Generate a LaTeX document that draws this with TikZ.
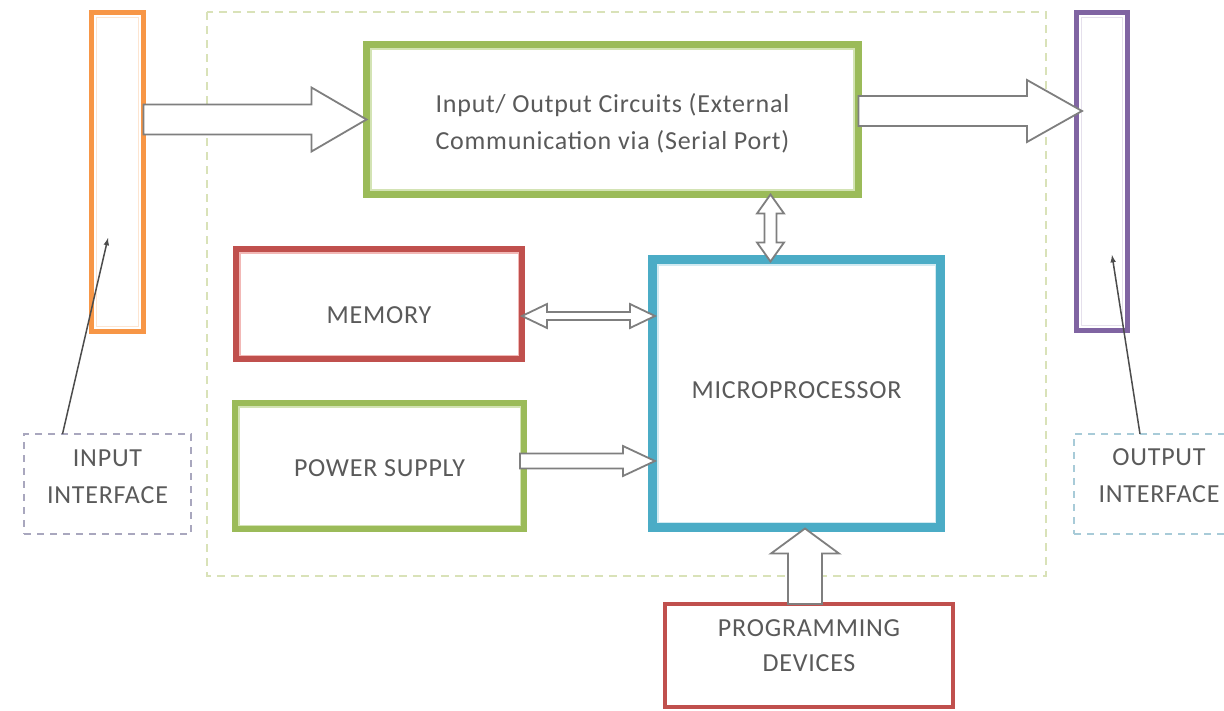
\documentclass[tikz,border=0pt]{standalone}
\usepackage{fontspec}
\setmainfont{Carlito}[LetterSpace=3]
\usetikzlibrary{calc}

% Office-style theme colours
\definecolor{cOrange}{HTML}{F79646}
\definecolor{cPurple}{HTML}{8064A2}
\definecolor{cGreen}{HTML}{9BBB59}
\definecolor{cGreenLt}{HTML}{D3E3B4}
\definecolor{cRed}{HTML}{C0504D}
\definecolor{cRedLt}{HTML}{F2B8B6}
\definecolor{cBlue}{HTML}{4BACC6}
\definecolor{cFrame}{HTML}{D9E2B8}
\definecolor{cIface}{HTML}{A9A7BE}
\definecolor{cIfaceB}{HTML}{A8CBD8}
\definecolor{cText}{HTML}{5A5A5A}
\definecolor{cArrow}{HTML}{7F7F7F}

% block arrow pointing right: from #1 (x) to tip #2; #3 shaft half, #4 head half, #5 head length
\newcommand\blockright[5]{%
  \draw[barrow] let \p1=(#1), \p2=(#2) in
    (\x1,\y2+#3) -- (\x2-#5,\y2+#3) -- (\x2-#5,\y2+#4) -- (\x2,\y2)
    -- (\x2-#5,\y2-#4) -- (\x2-#5,\y2-#3) -- (\x1,\y2-#3) -- cycle;}
% double-headed horizontal block arrow from tip #1 to tip #2 (at the height of #1)
\newcommand\blockboth[5]{%
  \draw[barrow] let \p1=(#1), \p2=(#2) in
    (\x1,\y1) -- (\x1+#5,\y1+#4) -- (\x1+#5,\y1+#3) -- (\x2-#5,\y1+#3) -- (\x2-#5,\y1+#4)
    -- (\x2,\y1) -- (\x2-#5,\y1-#4) -- (\x2-#5,\y1-#3) -- (\x1+#5,\y1-#3) -- (\x1+#5,\y1-#4) -- cycle;}
% double-headed vertical block arrow from tip #1 (top) to tip #2 (bottom), at the x of #1
\newcommand\blockvboth[5]{%
  \draw[barrow] let \p1=(#1), \p2=(#2) in
    (\x1,\y1) -- (\x1+#4,\y1-#5) -- (\x1+#3,\y1-#5) -- (\x1+#3,\y2+#5) -- (\x1+#4,\y2+#5)
    -- (\x1,\y2) -- (\x1-#4,\y2+#5) -- (\x1-#3,\y2+#5) -- (\x1-#3,\y1-#5) -- (\x1-#4,\y1-#5) -- cycle;}
% upward block arrow from #1 (base) to tip #2, at the x of #1
\newcommand\blockup[5]{%
  \draw[barrow] let \p1=(#1), \p2=(#2) in
    (\x1-#3,\y1) -- (\x1-#3,\y2-#5) -- (\x1-#4,\y2-#5) -- (\x1,\y2)
    -- (\x1+#4,\y2-#5) -- (\x1+#3,\y2-#5) -- (\x1+#3,\y1) -- cycle;}
% thin lighter line just inside a thick box outline (anchors lie on the stroke centre)
\newcommand\innerline[3]{%
  \draw[#2, line width=1.6pt] ([xshift=#3pt,yshift=-#3pt]#1.north west) rectangle ([xshift=-#3pt,yshift=#3pt]#1.south east);}

\begin{document}
\begin{tikzpicture}[x=1pt, y=-1pt,
  every node/.style={font=\fontsize{26}{37}\selectfont, text=cText, align=center},
  box/.style={draw, rectangle, inner sep=0pt, outer sep=0pt, fill=white},
  barrow/.style={draw=cArrow, line width=1.8pt, fill=white, line join=miter},
  iface/.style={draw=cIface, dashed, dash pattern=on 7pt off 6pt, line width=2.2pt, rectangle, outer sep=0pt},
  thinarrow/.style={draw=black!70, line width=1.5pt, -latex}]

\useasboundingbox (0,0) rectangle (1224,710);

% system boundary
\draw[cFrame, line width=2.5pt, dash pattern=on 8pt off 6pt] (207,12) rectangle (1046,576);

% side bars
\node[box, draw=cOrange, line width=5pt, minimum width=52pt, minimum height=319pt] (inbar) at (117.5,172) {};
\innerline{inbar}{cOrange!25}{5}
\node[box, draw=cPurple, line width=5pt, minimum width=51pt, minimum height=318pt] (outbar) at (1102,171.5) {};
\innerline{outbar}{cPurple!20}{5}

% main blocks
\node[box, draw=cGreen, line width=7pt, minimum width=492pt, minimum height=150pt,
  label={[yshift=-4pt]center:{Input/ Output Circuits (External\\Communication via (Serial Port)}}] (io) at (612.5,119.5) {};
\innerline{io}{cGreenLt}{4.3}

\node[box, draw=cRed, line width=6pt, minimum width=286pt, minimum height=110pt,
  label={[yshift=-11pt]center:MEMORY}] (mem) at (379,304) {};
\innerline{mem}{cRedLt}{3.7}

\node[box, draw=cGreen, line width=6pt, minimum width=289pt, minimum height=126pt,
  label={[yshift=-2pt]center:POWER SUPPLY}] (pwr) at (379.5,466) {};
\innerline{pwr}{cGreenLt}{3.7}

\node[box, draw=cBlue, line width=9pt, minimum width=288pt, minimum height=268pt,
  label={[yshift=3pt]center:MICROPROCESSOR}] (cpu) at (796.5,393.5) {};
\innerline{cpu}{cBlue!25}{5.2}

\node[box, draw=cRed, line width=4pt, minimum width=288pt, minimum height=103pt,
  label={[yshift=10pt]center:{PROGRAMMING\\[-2pt]DEVICES}}] (prog) at (809,655.5) {};

% interface labels
\node[iface, minimum width=167pt, minimum height=100pt,
  label={[yshift=7pt]center:{INPUT\\INTERFACE}}] (inif) at (107.5,484) {};
\node[iface, draw=cIfaceB, minimum width=162pt, minimum height=100pt,
  label={[yshift=8pt,xshift=4pt]center:{OUTPUT\\INTERFACE}}] (outif) at (1155,484) {};

% block arrows
\blockright{inbar.east}{io.west}{15pt}{32pt}{55pt}
\blockright{io.east}{[yshift=8.5pt,xshift=5.5pt]outbar.west |- io.east}{15pt}{31pt}{55pt}
\blockvboth{[xshift=-26pt]io.south -| cpu.north}{[xshift=-26pt,yshift=-2pt]cpu.north}{6pt}{13.5pt}{19pt}
\blockboth{[yshift=-12pt]mem.east}{[xshift=2.5pt]cpu.west}{4pt}{12pt}{25pt}
\blockright{[yshift=5pt,xshift=-4pt]pwr.east}{[xshift=2.5pt,yshift=5pt]cpu.west |- pwr.east}{7.5pt}{15pt}{32pt}
\blockup{[xshift=-4pt]prog.north}{[xshift=-4pt,yshift=-1pt]prog.north |- cpu.south}{17pt}{34pt}{25pt}

% pointers from the interface labels to the bars
\coordinate (intip) at (108,238);
\coordinate (outtip) at (1112,255);
\draw[thinarrow] ([xshift=-45pt]inif.north) -- (intip);
\draw[thinarrow] ([xshift=-15pt]outif.north) -- (outtip);
\end{tikzpicture}
\end{document}
